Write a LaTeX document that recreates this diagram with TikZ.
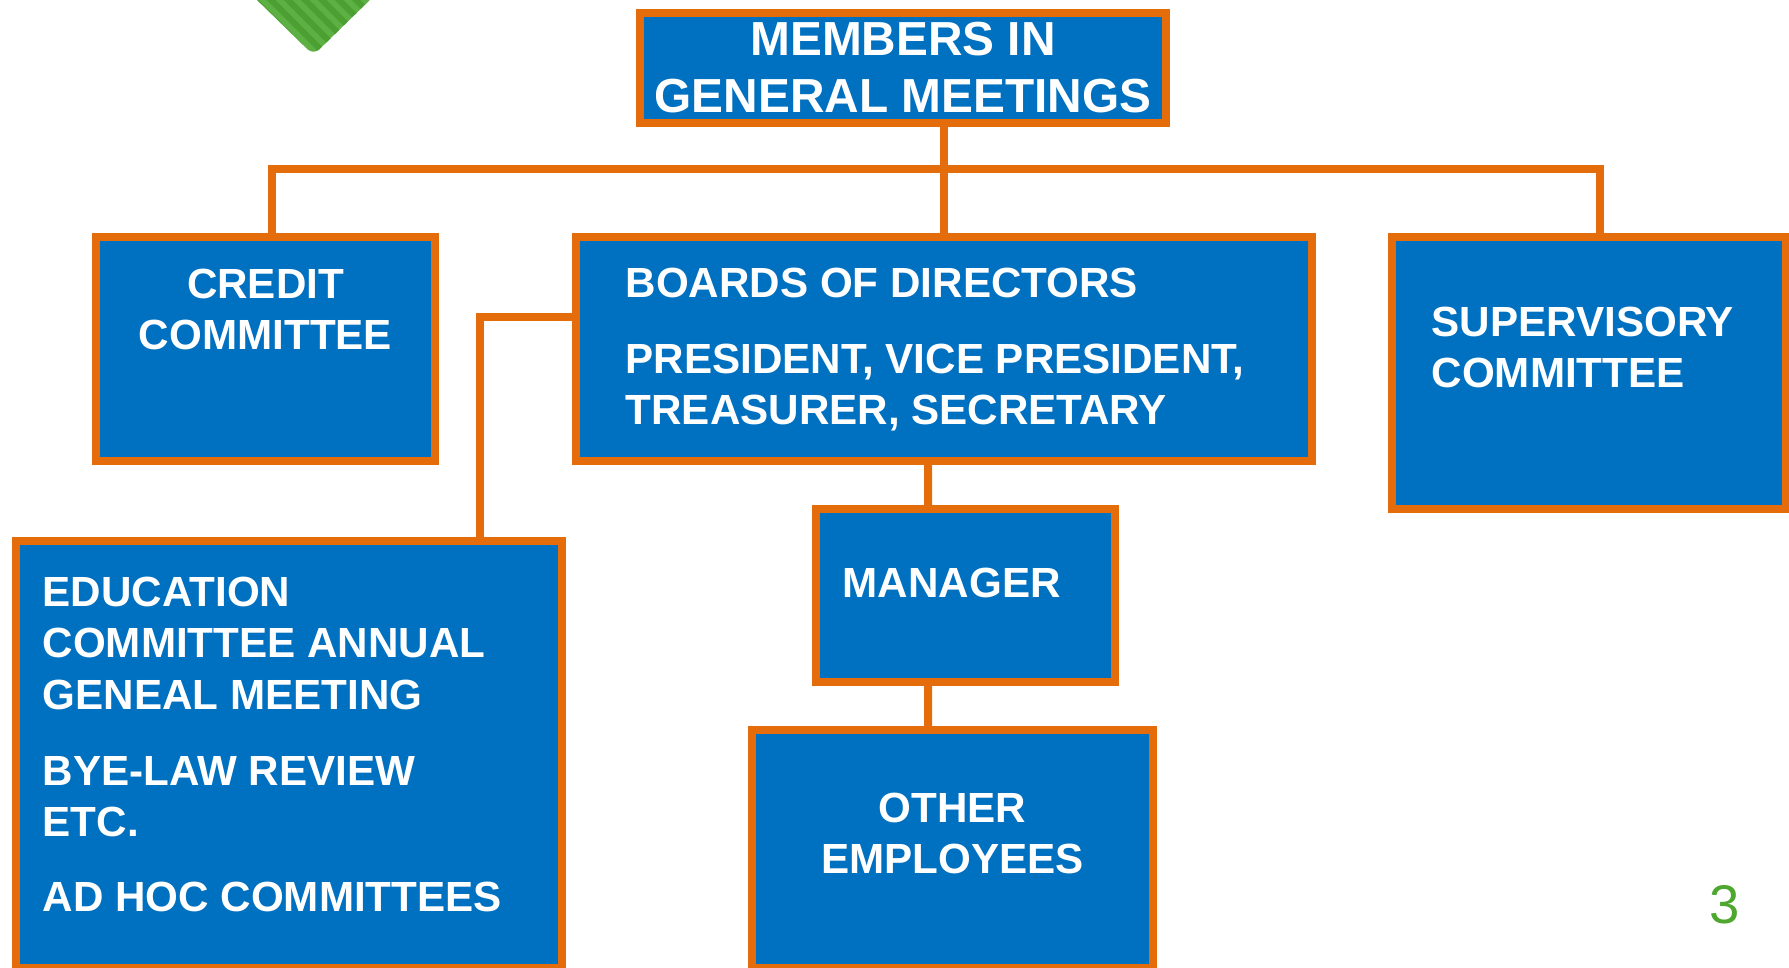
\documentclass[tikz,border=0pt]{standalone}
\usepackage{fontspec}
\setmainfont{Liberation Sans}
\usetikzlibrary{positioning}
\definecolor{boxblue}{HTML}{0070C0}
\definecolor{lineorange}{HTML}{E46C0A}
\definecolor{pagegreen}{HTML}{4EA72E}
\definecolor{chevlight}{HTML}{5DB043}
\definecolor{chevdark}{HTML}{4C9F31}

\begin{document}
\begin{tikzpicture}[
	orgbox/.style={draw=lineorange,fill=boxblue,line width=0.08cm,inner sep=0,anchor=north west},
	orgtext/.style={text=white,inner sep=0,font=\bfseries\fontsize{12}{14.7}\selectfont},
	link/.style={draw=lineorange,line width=0.08cm}
]
	\useasboundingbox (0,0) rectangle (17.89,-9.68);
	\clip (0,0) rectangle (17.89,-9.68);
	%% striped chevron
	\begin{scope}
		\clip[rounded corners=0.08cm] (2.52,0.05) -- (3.135,-0.55) -- (3.75,0.05) -- cycle;
		\fill[chevlight] (2.4,0.1) rectangle (3.9,-0.6);
		\foreach \s in {0,...,8}
			\draw[chevdark,line width=0.06cm] (2.1+0.17*\s,0.1) -- ++(0.8,-0.8);
	\end{scope}
	%% boxes
	\node[orgbox,minimum width=5.26cm,minimum height=1.10cm] (members) at (6.36,-0.09) {};
	\node[orgbox,minimum width=3.39cm,minimum height=2.24cm] (credit) at (0.92,-2.33) {};
	\node[orgbox,minimum width=7.36cm,minimum height=2.24cm] (board) at (5.72,-2.33) {};
	\node[orgbox,minimum width=3.94cm,minimum height=2.72cm] (super) at (13.88,-2.33) {};
	\node[orgbox,minimum width=5.46cm,minimum height=4.27cm] (edu) at (0.12,-5.37) {};
	\node[orgbox,minimum width=2.99cm,minimum height=1.73cm] (manager) at (8.12,-5.05) {};
	\node[orgbox,minimum width=4.01cm,minimum height=2.38cm] (others) at (7.48,-7.26) {};
	%% texts
	\node[orgtext,align=center,anchor=north,font=\bfseries\fontsize{13.6}{16.4}\selectfont,
		below=0.12 of members.north] (memberstext) {MEMBERS IN\\GENERAL MEETINGS};
	\node[orgtext,align=center,anchor=north,below=0.35 of credit.north] (credittext) {CREDIT\\COMMITTEE};
	\node[orgtext,align=left,below right=0.34 and 0.53 of board.north west] (boardtext)
		{BOARDS OF DIRECTORS\\[6.9pt]PRESIDENT, VICE PRESIDENT,\\TREASURER, SECRETARY};
	\node[orgtext,align=left,below right=0.73 and 0.43 of super.north west] (supertext) {SUPERVISORY\\COMMITTEE};
	\node[orgtext,align=left,below right=0.39 and 0.30 of edu.north west] (edutext)
		{EDUCATION\\COMMITTEE ANNUAL\\GENEAL MEETING\\[6.8pt]BYE-LAW REVIEW\\ETC.\\[6.6pt]AD HOC COMMITTEES};
	\node[orgtext,align=left,below right=0.62 and 0.30 of manager.north west] (managertext) {MANAGER};
	\node[orgtext,align=center,anchor=north,below=0.66 of others.north] (otherstext) {OTHER\\EMPLOYEES};
	%% connectors
	\draw[link] (board.north |- members.south) -- (board.north);
	\draw[link] ([xshift=0.065cm]credit.north) -- ++(0,0.64) -| ([xshift=0.11cm]super.north);
	\draw[link] ([yshift=0.32cm]board.west) -| ([xshift=1.91cm]edu.north);
	\draw[link] ([xshift=-0.16cm]board.south) -- ([xshift=-0.375cm]manager.north);
	\draw[link] ([xshift=-0.375cm]manager.south) -- ([xshift=-0.245cm]others.north);
	%% page number
	\node[text=pagegreen,font=\fontsize{15.5}{18}\selectfont] (pagenum) at (17.25,-9.05) {3};
\end{tikzpicture}
\end{document}
